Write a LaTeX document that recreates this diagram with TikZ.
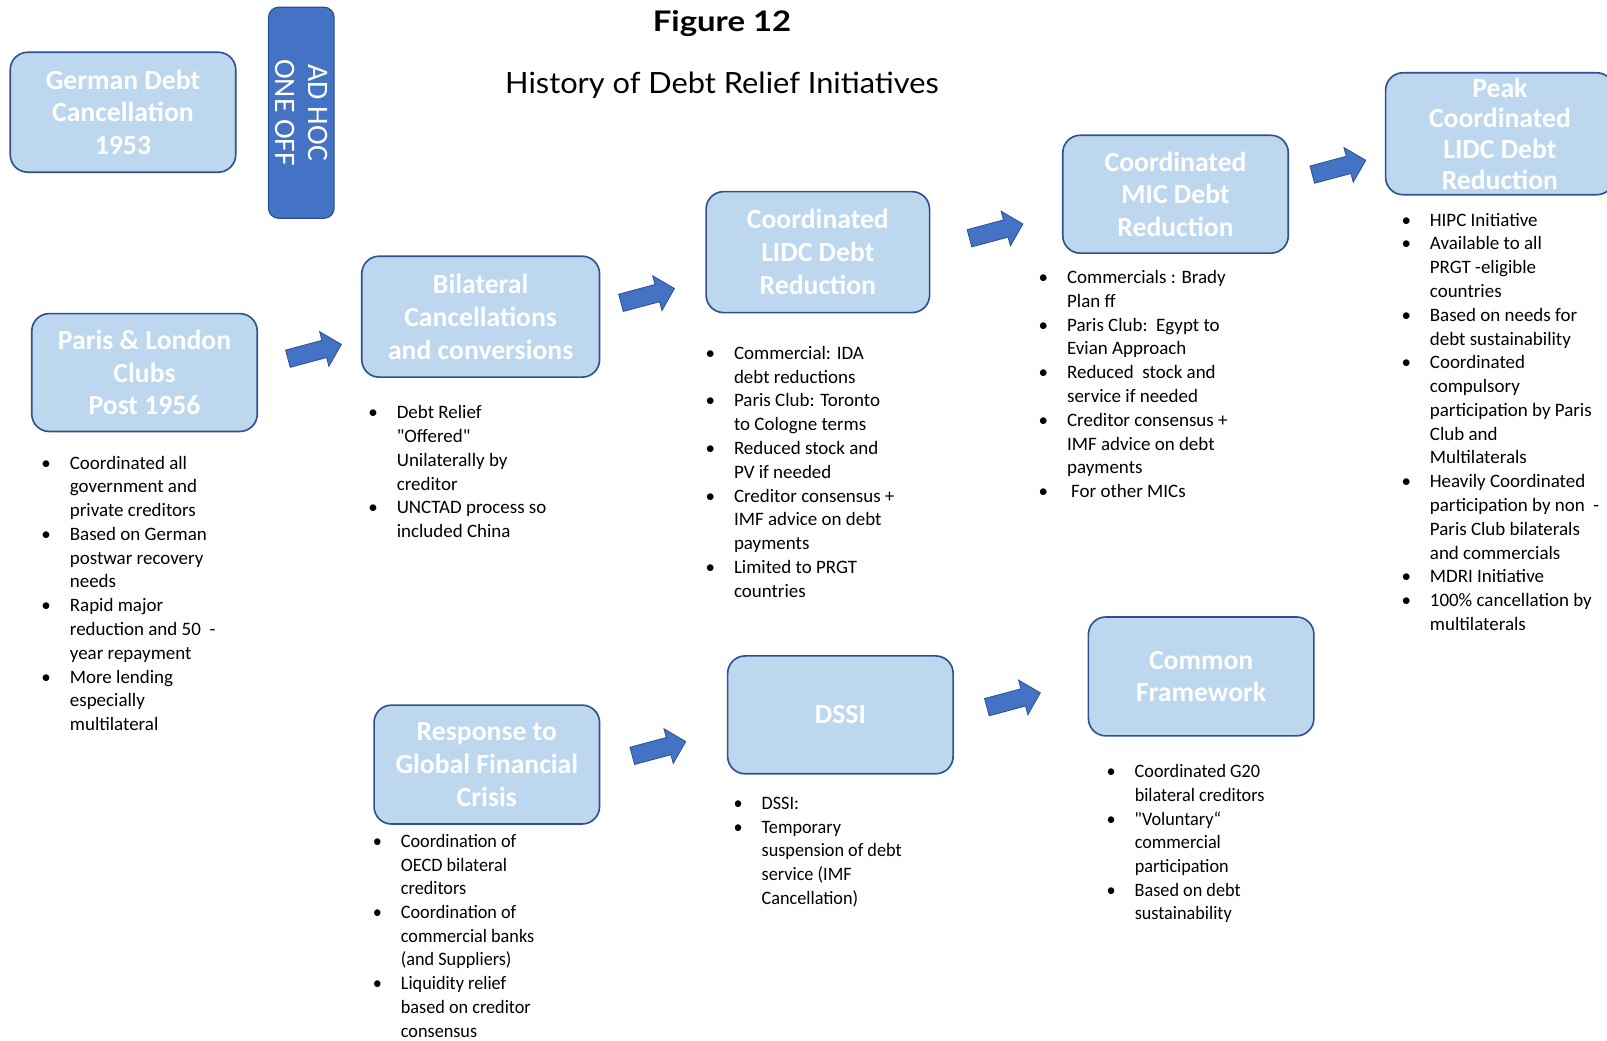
\documentclass[tikz,border=0pt]{standalone}
\usepackage{fontspec}
\setmainfont{Carlito}[Ligatures=TeXOff]
\newfontfamily\titlefont{Lato}
\newfontfamily\condfont{Carlito}[FakeStretch=0.96,Ligatures=TeXOff]
\definecolor{boxfill}{HTML}{BDD7EE}
\definecolor{boxline}{HTML}{2F528F}
\definecolor{accent}{HTML}{4472C4}
\newcommand\itm{\llap{\textbullet\hspace{18.5pt}}}
\newcommand\fst{\rule{0pt}{16pt}}
\begin{document}
\begin{tikzpicture}[x=1pt,y=-1pt,
  stage/.style={draw=boxline, line width=1.6pt, fill=boxfill, rounded corners=17pt,
    text=white, font=\fontsize{27}{32}\selectfont\bfseries, align=center, inner sep=0pt,
    minimum width=220pt, minimum height=116pt},
  adhocbox/.style={draw=boxline, line width=1.2pt, fill=accent, rounded corners=10pt,
    text=white, font=\fontsize{29}{32}\selectfont, align=center, inner sep=0pt,
    minimum width=206pt, minimum height=64pt, rotate=-90},
  listtext/.style={anchor=north west, inner sep=0pt, align=left,
    font=\fontsize{18.5}{23.2}\selectfont},
  condlist/.style={listtext, font=\condfont\fontsize{18.5}{23.15}\selectfont},
  arrowshape/.style={fill=accent, draw=boxline, line width=0.8pt, line join=miter},
  blockarrow/.pic={\path[arrowshape] (-27,-8.7) -- (9.7,-8.7) -- (9.7,-17.5) -- (27,0)
     -- (9.7,17.5) -- (9.7,8.7) -- (-27,8.7) -- cycle;}
]
\useasboundingbox (0,0) rectangle (1568,1015);
\fill[white] (0,0) rectangle (1568,1015);
\clip (0,0) rectangle (1568,1015);

% titles
\node[anchor=base, inner sep=0pt] (fig) at (704.5,31)
  {\resizebox{135pt}{20.5pt}{\titlefont\bfseries Figure 12}};
\node[anchor=base, inner sep=0pt] (ttl) at (704.5,91)
  {\resizebox{423pt}{21pt}{\titlefont History of Debt Relief Initiatives}};

% stage boxes
\node[stage, minimum height=117pt] (german) at (120,109.5) {German Debt\\Cancellation\\1953};
\node[adhocbox] (adhoc) at (294,110) {AD HOC\\ONE OFF};
\node[stage, minimum height=115pt] (paris) at (141,363.5) {Paris \& London\\Clubs\\Post 1956};
\node[stage, minimum width=232pt, minimum height=118pt] (bilat) at (469,309) {Bilateral\\Cancellations\\and conversions};
\node[stage, minimum width=218pt, minimum height=118pt] (lidc) at (798,246) {Coordinated\\LIDC Debt\\Reduction};
\node[stage, minimum height=115pt] (mic) at (1147,189.5) {Coordinated\\MIC Debt\\Reduction};
\node[stage, minimum width=223pt, minimum height=119pt, font=\fontsize{27}{30}\selectfont\bfseries] (peak) at (1463.5,130.5) {Peak\\Coordinated\\LIDC Debt\\Reduction};
\node[stage] (resp) at (475,746) {Response to\\Global Financial\\Crisis};
\node[stage, minimum height=115pt] (dssi) at (820,697.5) {DSSI};
\node[stage] (common) at (1172,660) {Common\\Framework};

% block arrows
\pic[rotate=15] at (307,343) {blockarrow};
\pic[rotate=15] at (632,288.5) {blockarrow};
\pic[rotate=15] at (972,225.5) {blockarrow};
\pic[rotate=15] at (1306.5,163.4) {blockarrow};
\pic[rotate=15] at (643,730.5) {blockarrow};
\pic[rotate=15] at (989,683) {blockarrow};

% bullet lists
\node[listtext] (lparis) at (68,441.5) {\fst\itm Coordinated all\\government and\\private creditors\\
\itm Based on German\\postwar recovery\\needs\\
\itm Rapid major\\reduction and 50\ \ -\\year repayment\\
\itm More lending\\especially\\multilateral};

\node[listtext] (lbilat) at (387,392.5) {\fst\itm Debt Relief\\"Offered"\\Unilaterally by\\creditor\\
\itm UNCTAD process so\\included China};

\node[listtext] (llidc) at (716,334.5) {\fst\itm Commercial: IDA\\debt reductions\\
\itm Paris Club: Toronto\\to Cologne terms\\
\itm Reduced stock and\\PV if needed\\
\itm Creditor consensus +\\IMF advice on debt\\payments\\
\itm Limited to PRGT\\countries};

\node[listtext] (lmic) at (1041,260.5) {\fst\itm Commercials : Brady\\Plan ff\\
\itm Paris Club:\ \ Egypt to\\Evian Approach\\
\itm Reduced\ \ stock and\\service if needed\\
\itm Creditor consensus +\\IMF advice on debt\\payments\\
\itm\hspace{4pt}For other MICs};

\node[listtext] (lpeak) at (1395,204.5) {\fst\itm HIPC Initiative\\
\itm Available to all\\PRGT -eligible\\countries\\
\itm Based on needs for\\debt sustainability\\
\itm Coordinated\\compulsory\\participation by Paris\\Club and\\Multilaterals\\
\itm Heavily Coordinated\\participation by non\ \ -\\Paris Club bilaterals\\and commercials\\
\itm MDRI Initiative\\
\itm 100\% cancellation by\\multilaterals};

\node[condlist] (lresp) at (391,810.5) {\fst\itm Coordination of\\OECD bilateral\\creditors\\
\itm Coordination of\\commercial banks\\(and Suppliers)\\
\itm Liquidity relief\\based on creditor\\consensus};

\node[condlist] (ldssi) at (743,773.5) {\fst\itm DSSI:\\
\itm Temporary\\suspension of debt\\service (IMF\\Cancellation)};

\node[condlist] (lcommon) at (1107,742.5) {\fst\itm Coordinated G20\\bilateral creditors\\
\itm "Voluntary“\\commercial\\participation\\
\itm Based on debt\\sustainability};
\end{tikzpicture}
\end{document}
